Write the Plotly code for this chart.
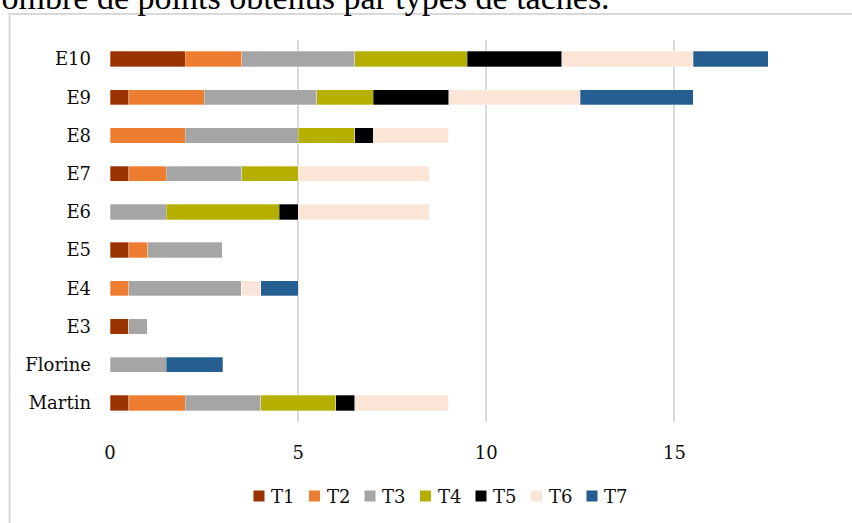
import plotly.graph_objects as go

# Students (bottom to top) and points earned per task type
students = ["Martin", "Florine", "E3", "E4", "E5", "E6", "E7", "E8", "E9", "E10"]
task_names = ["T1", "T2", "T3", "T4", "T5", "T6", "T7"]

t1 = [0.5, 0, 0.5, 0, 0.5, 0, 0.5, 0, 0.5, 2]
t2 = [1.5, 0, 0, 0.5, 0.5, 0, 1, 2, 2, 1.5]
t3 = [2, 1.5, 0.5, 3, 2, 1.5, 2, 3, 3, 3]
t4 = [2, 0, 0, 0, 0, 3, 1.5, 1.5, 1.5, 3]
t5 = [0.5, 0, 0, 0, 0, 0.5, 0, 0.5, 2, 2.5]
t6 = [2.5, 0, 0, 0.5, 0, 3.5, 3.5, 2, 3.5, 3.5]
t7 = [0, 1.5, 0, 1, 0, 0, 0, 0, 3, 2]

series = [t1, t2, t3, t4, t5, t6, t7]
colors = ["#9A3300", "#ED7D31", "#A5A5A5", "#B5B000", "#000000", "#FBE5D6", "#255E91"]

W, H = 852, 523
ML, MR, MT, MB = 110, 0, 40, 101
PW, PH = W - ML - MR, H - MT - MB
X_MAX = 19.72


def px_x(p):
    return (p - ML) / PW


def px_y(p):
    return (H - MB - p) / PH


fig = go.Figure()
for name, vals, col in zip(task_names, series, colors):
    fig.add_trace(go.Bar(
        y=students, x=vals, name=name, orientation="h", showlegend=False,
        marker=dict(color=col, line=dict(color="rgba(255,255,255,0.5)", width=0.6)),
    ))

serif = "DejaVu Serif"
txt = "#0d0d0d"

# Chart frame and the heading above it
shapes = [dict(
    type="rect", xref="paper", yref="paper",
    x0=px_x(9.5), x1=px_x(900), y0=px_y(700), y1=px_y(14),
    line=dict(color="#D9D9D9", width=2), fillcolor="rgba(0,0,0,0)",
    layer="below",
)]
annotations = [dict(
    text="Nombre de points obtenus par types de tâches.",
    xref="paper", yref="paper", x=px_x(-25), y=px_y(-3),
    xanchor="left", yanchor="middle", showarrow=False,
    font=dict(family="Liberation Serif", size=34, color="#000000"),
)]

# Legend: a row of colour squares with labels under the chart
leg_x0, leg_step, leg_y, sq = 259, 55.5, 496, 11
for i, (name, col) in enumerate(zip(task_names, colors)):
    cx = leg_x0 + i * leg_step
    shapes.append(dict(
        type="rect", xref="paper", yref="paper",
        x0=px_x(cx - sq / 2), x1=px_x(cx + sq / 2),
        y0=px_y(leg_y + sq / 2), y1=px_y(leg_y - sq / 2),
        fillcolor=col, line=dict(width=0),
    ))
    annotations.append(dict(
        text=name, xref="paper", yref="paper",
        x=px_x(cx + 10), y=px_y(leg_y), xanchor="left", yanchor="middle",
        showarrow=False, font=dict(family=serif, size=18, color=txt),
    ))

fig.update_layout(
    width=W, height=H,
    margin=dict(l=ML, r=MR, t=MT, b=MB),
    barmode="stack",
    bargap=0.6,
    showlegend=False,
    plot_bgcolor="white",
    paper_bgcolor="white",
    font=dict(family=serif, size=18, color=txt),
    xaxis=dict(
        range=[0, X_MAX], tickvals=[0, 5, 10, 15],
        showgrid=True, gridcolor="#D9D9D9", gridwidth=1.5,
        zeroline=False, showline=False, ticks="",
        ticklabelstandoff=18,
        tickfont=dict(family=serif, size=18, color=txt),
    ),
    yaxis=dict(
        categoryorder="array", categoryarray=students,
        showgrid=False, zeroline=False, showline=False, ticks="",
        ticklabelstandoff=18,
        tickfont=dict(family=serif, size=18, color=txt),
    ),
    shapes=shapes,
    annotations=annotations,
)

fig.write_html("out.html")
